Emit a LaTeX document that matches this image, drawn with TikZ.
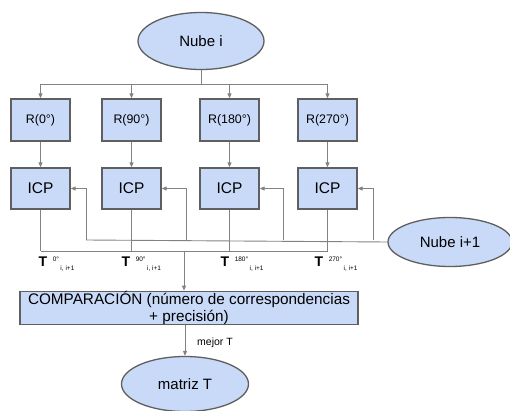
\documentclass[tikz,border=0pt]{standalone}
\usepackage{fontspec}
\setmainfont{Liberation Sans}
\usetikzlibrary{arrows.meta, positioning, shapes.geometric, calc}
\usepackage{xcolor}
\definecolor{cajaazul}{RGB}{201,218,248}
\definecolor{borde}{RGB}{95,95,95}
\definecolor{conector}{RGB}{130,130,130}
\newcommand{\chico}{\fontsize{6.5}{7}\selectfont}

\begin{document}
\begin{tikzpicture}[x=1pt, y=-1pt,
  box/.style={draw=borde, line width=1.3pt, fill=cajaazul, minimum width=59pt,
              inner sep=0pt, align=center},
  nube/.style={draw=borde, line width=1.3pt, fill=cajaazul, ellipse,
               inner sep=0pt, font=\fontsize{15}{17}\selectfont},
  linea/.style={draw=conector, line width=0.9pt},
  flecha/.style={linea, -{Triangle[length=5pt, width=4pt]}},
  tlabel/.style={anchor=base west, inner sep=0pt},
]
\useasboundingbox (0,0) rectangle (510,411);

% nubes de entrada y salida
\node[nube, minimum width=126pt, minimum height=57pt] (nubei) at (201,41) {Nube i};
\node[nube, minimum width=124pt, minimum height=49pt] (nubej) at (450,242) {Nube i+1};
\node[nube, minimum width=127pt, minimum height=55pt] (matriz) at (185,384) {matriz T};

% rotaciones e ICP
\foreach \ang/\x in {0/40.5, 90/131.5, 180/229.5, 270/327.5} {
  \node[box, minimum height=42pt, font=\fontsize{12.4}{14}\selectfont] (r\ang) at (\x,120) {R(\ang°)};
  \node[box, minimum height=41pt, font=\fontsize{15.5}{17}\selectfont] (icp\ang) at (\x,188.5) {ICP};
  \draw[flecha] (r\ang.south) -- (icp\ang.north);
}

\node[box, minimum width=338pt, minimum height=32pt, font=\fontsize{15.3}{17}\selectfont] (comp) at (189,308)
  {COMPARACIÓN (número de correspondencias\\+ precisión)};

% reparto desde Nube i
\coordinate (split) at (201,84);
\draw[linea] (nubei.south) -- (split);
\draw[linea] (r0.north |- split) -- (r270.north |- split);
\foreach \ang in {0,90,180,270}
  \draw[flecha] (r\ang.north |- split) -- (r\ang.north);

% Nube i+1 hacia cada ICP
\coordinate (f0) at (86,240);
\coordinate (f90) at (186,240);
\coordinate (f180) at (283,240);
\coordinate (f270) at (373,240);
\draw[linea] (f0) -- (nubej.west);
\foreach \ang in {0,90,180,270}
  \draw[flecha] (f\ang) |- (icp\ang.east);

% salidas de ICP
\coordinate (bus) at (184,251);
\foreach \ang in {0,90,180,270}
  \draw[linea] (icp\ang.south) -- (icp\ang.south |- bus);
\draw[linea] (icp0.south |- bus) -- (icp270.south |- bus);
\draw[flecha] (bus) -- (bus |- comp.north);
\draw[flecha] (comp.south -| matriz.north) -- (matriz.north);

% etiquetas T
\foreach \ang/\x in {0/38.5, 90/121.5, 180/220.5, 270/314.5}
  \node[tlabel] (t\ang) at (\x,266)
    {\fontsize{14}{14}\selectfont\textbf{T}\hspace{5.5pt}\raisebox{5pt}{\chico\ang°}\hspace{1.5pt}\raisebox{-4pt}{\chico i, i+1}};

\node[anchor=west, inner sep=0pt, font=\fontsize{10.5}{12}\selectfont] (mejor) at (197,343) {mejor T};
\end{tikzpicture}
\end{document}
